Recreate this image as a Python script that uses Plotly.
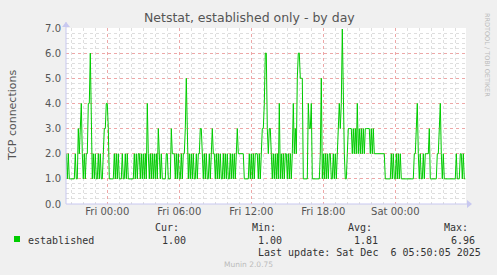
import datetime as dt
import plotly.graph_objects as go

# ---- data (5-minute samples, oldest first, ending at last update) ----
established = [
    2, 1, 2, 1, 1, 1, 1, 1, 1, 2, 1, 1, 3, 2, 3, 4, 2, 1, 2, 1, 2, 2, 4, 4, 6, 2, 1,
    2, 1, 2, 1, 1, 2, 1, 2, 1, 1, 2, 3, 3, 4, 4, 3, 1, 1, 1, 1, 1, 2, 1, 2, 1, 2,
    1, 1, 1, 2, 1, 1, 2, 1, 2, 1, 1, 1, 1, 1, 1,
    2, 1, 2, 1, 2, 2, 1, 2, 1, 2, 1, 2, 1, 4, 2,
    1, 2, 1, 2, 1, 2, 1, 2, 1, 3, 2,
    1, 2, 1, 1, 1, 1, 2, 2, 1, 1, 1, 3, 2,
    2, 2, 1, 2, 1, 2, 1, 1, 2, 1, 2, 2, 3, 5, 3,
    1, 2, 1, 2, 1, 2, 1, 1, 2, 1, 2, 2, 3, 3, 2,
    1, 2, 1, 2, 1, 1, 2, 1, 2, 3, 2,
    2, 1, 2, 1, 2, 1, 2, 1, 1, 2, 1, 2, 1, 2, 1, 1, 2, 1, 2, 1, 2, 1, 2, 3, 2,
    2, 2, 2, 2, 2, 1, 1, 1,
    1, 1, 2, 1, 2, 1, 2, 1, 2, 2, 2, 1, 2, 1, 2, 3, 3, 4, 6, 6, 3, 2, 3, 3, 2,
    1, 2, 1, 2, 1, 2, 1, 4, 1,
    2, 1, 2, 1, 2, 2, 1, 2, 1, 2, 1, 2, 4, 2, 3, 2, 5, 6, 6, 5, 5, 5, 1,
    1, 1, 1, 1, 4, 3, 3, 4, 1, 1, 1, 1, 1, 1, 1, 1, 2, 5, 1,
    2, 1, 2, 1, 2, 1, 2, 2, 1, 1, 2, 1, 2, 1, 2, 3, 4, 3, 4, 6.96, 4, 2, 1, 1,
    2, 3, 3, 3, 3, 2, 3, 2, 3, 2, 4, 2, 3, 2, 3, 2, 3, 2, 3, 3, 3, 3, 3,
    2, 3, 2, 3, 2, 2, 2, 2, 2, 2, 2, 2, 2, 2, 2,
    1, 1, 1, 1, 1, 1, 2, 1, 2, 1, 1, 2, 1, 2, 1, 2, 1,
    1, 1, 1, 1, 1, 1, 1, 1, 1, 1, 1, 1, 2, 2, 3, 4, 2,
    1, 2, 1, 1, 2, 1, 2, 2, 2, 2, 3, 1, 1, 1, 1, 1, 1, 1, 2, 2, 3, 4, 2,
    1, 2, 1, 1, 1, 1, 1, 1, 1, 1, 1, 1, 1, 1, 2, 1, 1, 1, 2, 2, 1, 2, 1, 1,
]

last_update = dt.datetime(2025, 12, 6, 5, 50, 5)
last_sample = dt.datetime(2025, 12, 6, 5, 50)
step = dt.timedelta(minutes=5)
n = len(established)
times = [last_sample - (n - 1 - i) * step for i in range(n)]

# view window: 400 px at 5 min/px, Fri 00:00 at ~41.3 px from left
x_start = dt.datetime(2025, 12, 5, 0, 0) - dt.timedelta(hours=41.3 / 12)
x_end = x_start + dt.timedelta(hours=400 / 12)

legend_name = "established"
stat_labels = ["Cur:", "Min:", "Avg:", "Max:"]
stat_values = ["1.00", "1.00", "1.81", "6.96"]

# ---- layout geometry ----
W, H = 497, 275
L, R, T, B = 66, 31, 28, 71
PW, PH = W - L - R, H - T - B


def xp(px):
    return (px - L) / PW


def yp(py):
    return (H - B - py) / PH


fig = go.Figure()
fig.add_trace(go.Scatter(
    x=times, y=established, mode="lines",
    line=dict(color="#00CC00", width=1), hoverinfo="skip", showlegend=False,
))

grid_major = "rgba(230,130,130,0.7)"
grid_minor = "rgba(200,200,200,0.6)"
tick_font = dict(family="DejaVu Sans", size=10, color="#555555")
mono = dict(family="DejaVu Sans Mono", size=10, color="#333333")

fig.update_layout(
    width=W, height=H,
    margin=dict(l=L, r=R, t=T, b=B, pad=0),
    paper_bgcolor="#F0F0F0", plot_bgcolor="#FFFFFF",
    showlegend=False,
    xaxis=dict(
        type="date", range=[x_start, x_end],
        tick0="2025-12-05 00:00", dtick=6 * 3600 * 1000,
        tickformat="%a %H:%M", tickfont=tick_font,
        showgrid=True, gridcolor=grid_major, griddash="dot", gridwidth=1,
        minor=dict(dtick=3600 * 1000, showgrid=True, gridcolor=grid_minor,
                   griddash="dot", gridwidth=1, ticks=""),
        ticks="", showline=False, zeroline=False, fixedrange=True,
    ),
    yaxis=dict(
        range=[0, 7.0], dtick=1, tick0=0, tickformat=".1f", tickfont=tick_font,
        showgrid=True, gridcolor=grid_major, griddash="dot", gridwidth=1,
        minor=dict(dtick=0.2, showgrid=True, gridcolor=grid_minor,
                   griddash="dot", gridwidth=1, ticks=""),
        ticks="", ticklabelstandoff=4, showline=False, zeroline=False,
        fixedrange=True,
    ),
)

axis_col = "#C8C8F0"
# axis lines with arrows
fig.add_shape(type="line", xref="paper", yref="paper", x0=0, x1=xp(470), y0=0, y1=0,
              line=dict(color=axis_col, width=1))
fig.add_shape(type="line", xref="paper", yref="paper", x0=0, x1=0, y0=0, y1=yp(22),
              line=dict(color=axis_col, width=1))
fig.add_shape(type="path", xref="paper", yref="paper",
              path=f"M {xp(467)} {yp(200)} L {xp(472)} {yp(204)} L {xp(467)} {yp(208)} Z",
              fillcolor=axis_col, line=dict(width=0))
fig.add_shape(type="path", xref="paper", yref="paper",
              path=f"M {xp(62)} {yp(27)} L {xp(66)} {yp(22)} L {xp(70)} {yp(27)} Z",
              fillcolor=axis_col, line=dict(width=0))

ann = []
ann.append(dict(text="Netstat, established only - by day", x=xp(249), y=yp(17),
                xref="paper", yref="paper", showarrow=False, xanchor="center", yanchor="middle",
                font=dict(family="DejaVu Sans", size=12.5, color="#555555")))
ann.append(dict(text="TCP connections", x=xp(12), y=yp(116), textangle=-90,
                xref="paper", yref="paper", showarrow=False, xanchor="center", yanchor="middle",
                font=dict(family="DejaVu Sans", size=11, color="#555555")))
ann.append(dict(text="RRDTOOL / TOBI OETIKER", x=xp(487), y=yp(55), textangle=90,
                xref="paper", yref="paper", showarrow=False, xanchor="center", yanchor="middle",
                font=dict(family="DejaVu Sans", size=6.5, color="#BBBBBB")))

# legend block
fig.add_shape(type="rect", xref="paper", yref="paper",
              x0=xp(14), x1=xp(20), y0=yp(236), y1=yp(242),
              fillcolor="#00CC00", line=dict(width=0))
ann.append(dict(text=legend_name, x=xp(26), y=yp(240), xref="paper", yref="paper",
                showarrow=False, xanchor="left", yanchor="middle", font=mono))
label_right = [181, 278, 374, 470]
value_right = [188, 284, 380, 477]
for lab, val, lr, vr in zip(stat_labels, stat_values, label_right, value_right):
    ann.append(dict(text=lab, x=xp(lr), y=yp(228), xref="paper", yref="paper",
                    showarrow=False, xanchor="right", yanchor="middle", font=mono))
    ann.append(dict(text=val, x=xp(vr), y=yp(240), xref="paper", yref="paper",
                    showarrow=False, xanchor="right", yanchor="middle", font=mono))
ann.append(dict(text="Last update: Sat Dec &nbsp;6 05:50:05 2025", x=xp(483), y=yp(252),
                xref="paper", yref="paper", showarrow=False, xanchor="right",
                yanchor="middle", font=mono))
ann.append(dict(text="Munin 2.0.75", x=xp(248), y=yp(264), xref="paper", yref="paper",
                showarrow=False, xanchor="center", yanchor="middle",
                font=dict(family="DejaVu Sans", size=7.5, color="#BBBBBB")))
fig.update_layout(annotations=ann)

fig.write_html("out.html")
